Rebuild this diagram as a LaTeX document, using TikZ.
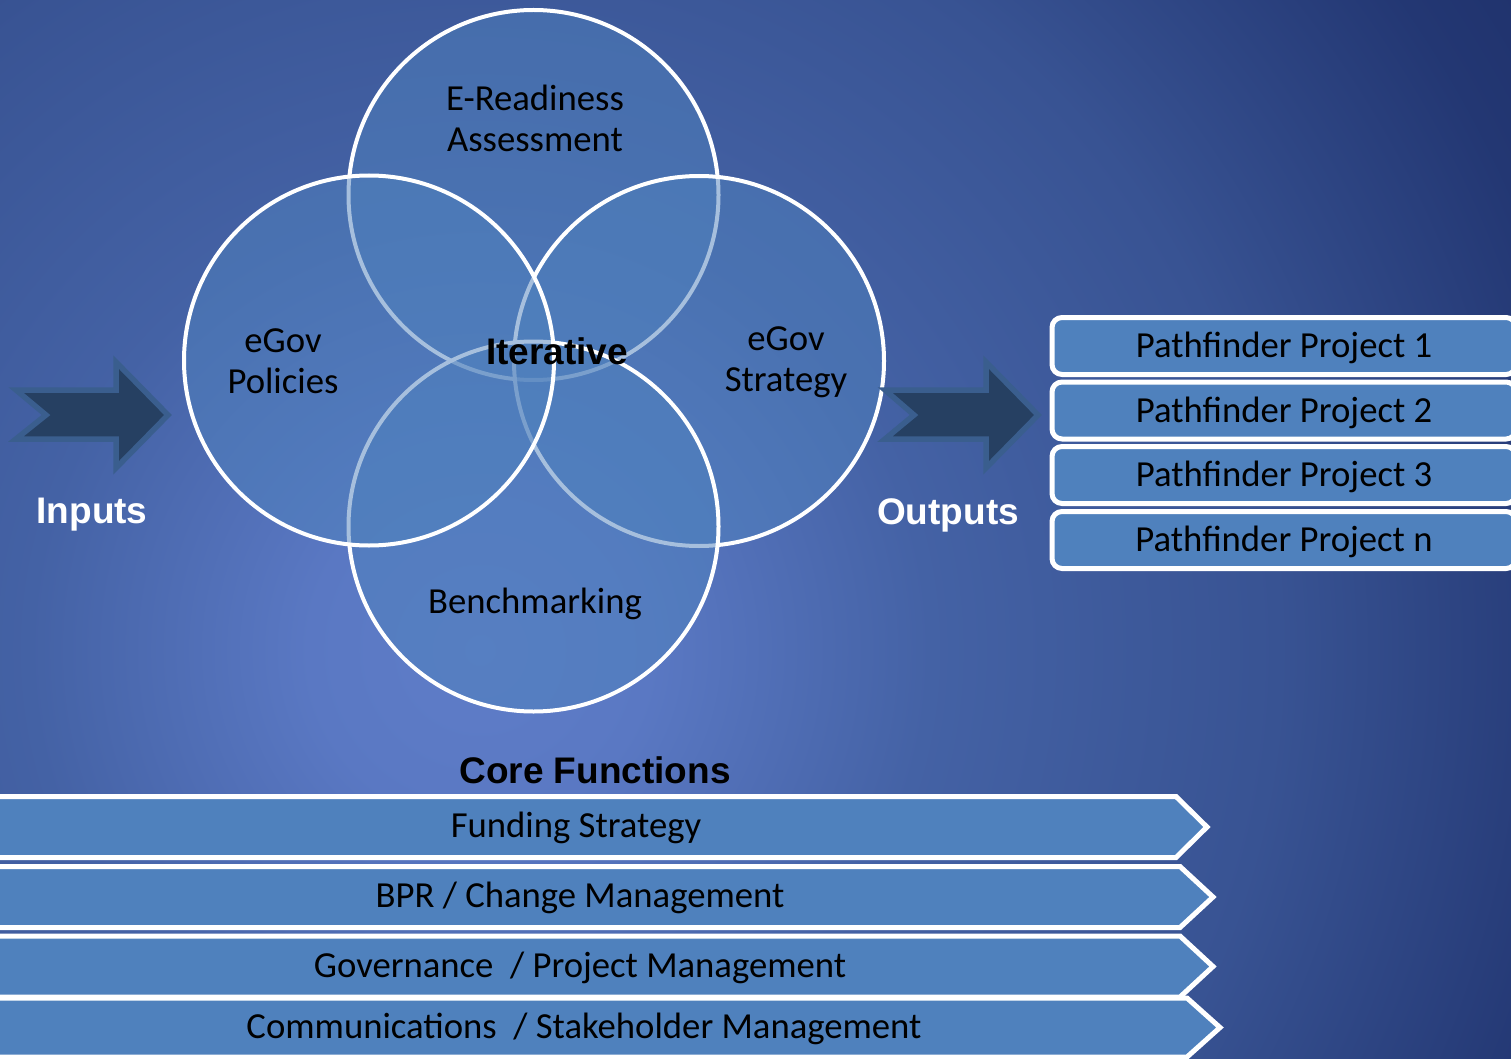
\documentclass[tikz,border=0pt]{standalone}
\usepackage{fontspec}
\setmainfont{Carlito}
\newfontfamily\arialfont{Liberation Sans}
\pgfdeclareradialshading{bgshade}{\pgfpoint{0bp}{0bp}}{rgb(0bp)=(0.372,0.490,0.784); rgb(3.4bp)=(0.353,0.471,0.765); rgb(9bp)=(0.267,0.384,0.647); rgb(16bp)=(0.220,0.325,0.576); rgb(22.6bp)=(0.137,0.216,0.451); rgb(25bp)=(0.125,0.196,0.424); rgb(50bp)=(0.125,0.196,0.424)}
\definecolor{accent}{HTML}{4F81BD}
\definecolor{arrowfill}{HTML}{264062}
\definecolor{arrowedge}{HTML}{3A5E8E}
\tikzset{
  txt/.style={font=\fontsize{36.7}{41}\selectfont, text=black, align=center, inner sep=0pt},
  boldtxt/.style={font=\arialfont\bfseries\fontsize{37}{41}\selectfont, align=center, inner sep=0pt},
  venn/.style={circle, draw=white, line width=4pt, fill=accent, fill opacity=0.5, draw opacity=1, minimum size=370pt, inner sep=0pt},
  projbox/.style={draw=white, line width=5pt, fill=accent, rounded corners=10pt, minimum width=464pt, minimum height=57pt, inner sep=0pt, text height=28pt, text depth=5pt, font=\fontsize{36.7}{41}\selectfont},
  chev/.style={draw=white, line width=5pt, fill=accent, line join=miter},
  bigarrow/.style={draw=arrowedge, fill=arrowfill, line width=5.5pt, line join=miter}
}
\begin{document}
\begin{tikzpicture}[x=1pt, y=-1pt]
\useasboundingbox (0,0) rectangle (1511,1059);
\clip (0,0) rectangle (1511,1059);
\shade[shading=bgshade] (480,650) circle[radius=1250pt];

% Venn circles
\node[venn] (ctop) at (533.5,195) {};
\node[venn] (cright) at (699,361) {};
\node[venn] (cbottom) at (533.5,526.5) {};
\node[venn] (cleft) at (369,360.5) {};

\node[txt] (tTop) at (535,118) {E-Readiness\\Assessment};
\node[txt] (tLeft) at (283,361) {eGov\\Policies};
\node[txt] (tRight) at (786,362) {eGov\\Strategy};
\node[txt] (tBottom) at (535,604) {Benchmarking};
\node[boldtxt, text=black] (tIter) at (557,351) {Iterative};

% Arrows
\draw[bigarrow] (16,390) -- (116,390) -- (116,362) -- (168,415) -- (116,468) -- (116,439) -- (16,439) -- (46,415) -- cycle;
\draw[bigarrow] (885,390) -- (986,390) -- (986,362) -- (1038,415) -- (986,468) -- (986,439) -- (885,439) -- (914,415) -- cycle;

\node[boldtxt, text=white] (inputs) at (92,515) {Inputs};
\node[boldtxt, text=white] (outputs) at (948,515) {Outputs};

% Pathfinder projects
\node[projbox] (p1) at (1284,346) {Pathfinder Project 1};
\node[projbox] (p2) at (1284,410.5) {Pathfinder Project 2};
\node[projbox] (p3) at (1284,475) {Pathfinder Project 3};
\node[projbox] (p4) at (1284,540) {Pathfinder Project n};

% Core functions
\node[boldtxt, text=black] (core) at (595,770) {Core Functions};
\draw[chev] (-20,796.5) -- (1176,796.5) -- (1207,827) -- (1176,857.5) -- (-20,857.5) -- cycle;
\draw[chev] (-20,866.5) -- (1180,866.5) -- (1213,897) -- (1180,927.5) -- (-20,927.5) -- cycle;
\draw[chev] (-20,936) -- (1180,936) -- (1213,966.5) -- (1180,997) -- (-20,997) -- cycle;
\draw[chev] (-20,998) -- (1187,998) -- (1220,1027.5) -- (1187,1057) -- (-20,1057) -- cycle;
\node[txt] (f1) at (576,828) {Funding Strategy};
\node[txt] (f2) at (580,898) {BPR / Change Management};
\node[txt] (f3) at (580,968) {Governance\ \ / Project Management};
\node[txt] (f4) at (584,1029) {Communications\ \ / Stakeholder Management};
\end{tikzpicture}
\end{document}
